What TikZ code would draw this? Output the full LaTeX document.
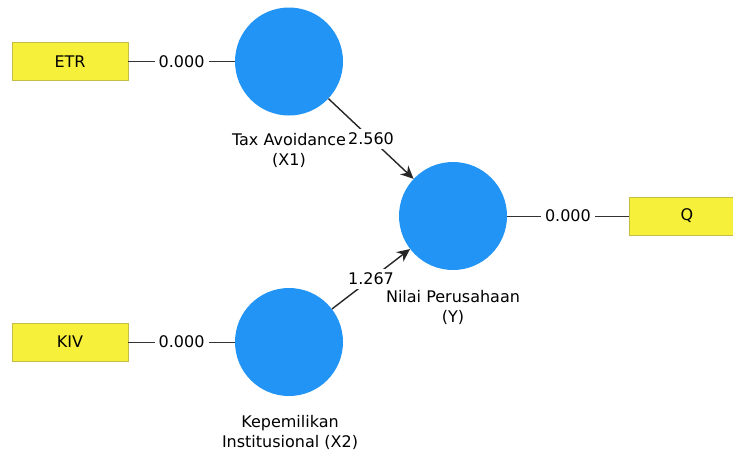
\documentclass[tikz,border=0pt]{standalone}
\usepackage{fontspec}
\setmainfont{DejaVu Sans}
\usetikzlibrary{arrows.meta,positioning}
\definecolor{lvblue}{RGB}{33,148,245}
\definecolor{mvyellow}{RGB}{247,240,58}
\definecolor{mvedge}{RGB}{196,190,70}

\begin{document}
\begin{tikzpicture}[x=1pt,y=-1pt,>=Stealth,
  every node/.style={font=\fontsize{16}{20}\selectfont},
  latent/.style={circle,fill=lvblue,minimum size=108pt,inner sep=0pt},
  manifest/.style={rectangle,draw=mvedge,fill=mvyellow,line width=0.8pt,
                   minimum width=116pt,minimum height=38pt,inner sep=0pt},
  lvname/.style={align=center,inner sep=0pt},
  weight/.style={fill=white,inner sep=4pt},
  outer/.style={line width=1pt,draw=black!80},
  inner/.style={line width=1.4pt,draw=black!85,-{Stealth[length=13pt,width=12pt]}}]
  \useasboundingbox (0,0) rectangle (733,450);

  % Latent variables
  \node[latent] (X1) at (289,61.5)  {};
  \node[latent] (X2) at (289,342)   {};
  \node[latent] (Y)  at (453,216)   {};

  % Indicators
  \node[manifest] (ETR) at (70,61.5) {ETR};
  \node[manifest] (KIV) at (70,342)  {KIV};
  \node[manifest] (Q)   at (687,216) {Q};

  % Outer model (indicator weights)
  \draw[outer] (ETR) -- node[weight]{0.000} (X1);
  \draw[outer] (KIV) -- node[weight]{0.000} (X2);
  \draw[outer] (Y)   -- node[weight]{0.000} (Q);

  % Inner model (path coefficients)
  \draw[inner] (X1) -- node[weight]{2.560} (Y);
  \draw[inner] (X2) -- node[weight]{1.267} (Y);

  % Names under the circles (on top of the weights)
  \node[lvname] (X1name) at (289,150) {Tax Avoidance\\(X1)};
  \node[lvname] (Yname)  at (453,307) {Nilai Perusahaan\\(Y)};
  \node[lvname] (X2name) at (290,432) {Kepemilikan\\Institusional (X2)};
\end{tikzpicture}
\end{document}
